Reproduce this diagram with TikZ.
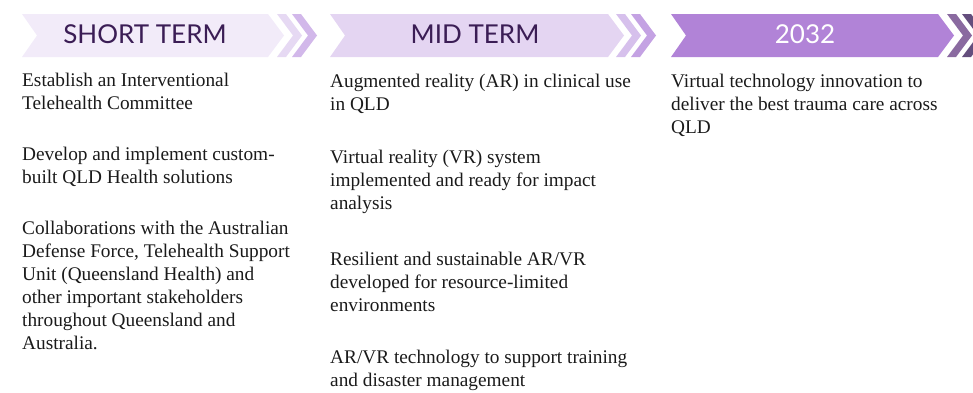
\documentclass[tikz,border=0pt]{standalone}
\usepackage{fontspec}
\setmainfont{Liberation Serif}
\newfontfamily\bannerfont{Lato}
\usepackage{xcolor}
\usepackage{tikz}

\definecolor{shortfill}{HTML}{F2EBF9}
\definecolor{shortchevA}{HTML}{E6D9F3}
\definecolor{shortchevB}{HTML}{D2B8EA}
\definecolor{midfill}{HTML}{E4D5F2}
\definecolor{midchevA}{HTML}{D6C0EC}
\definecolor{midchevB}{HTML}{C4A2E3}
\definecolor{yearfill}{HTML}{B183D7}
\definecolor{yearchevA}{HTML}{8A6AA0}
\definecolor{yearchevB}{HTML}{644E7D}
\definecolor{bannertext}{HTML}{3B1D55}
\definecolor{bodytext}{HTML}{1A1A1A}

\begin{document}
\begin{tikzpicture}[
    x=1pt, y=-1pt,
    label/.style={font=\bannerfont\fontsize{26}{30}\selectfont, inner sep=0pt, anchor=center},
    item/.style={anchor=base west, align=left, inner sep=0pt, font=\fontsize{19.3}{23}\selectfont, text=bodytext}
]
    \clip (0,0) rectangle (973,392);

    % Short term banner
    \fill[shortfill] (22,14) -- (268,14) -- (284,35.5) -- (268,57) -- (22,57) -- (37,35.5) -- cycle;
    \fill[shortchevA] (277,14) -- ++(9,0) -- ++(16,21.5) -- ++(-16,21.5) -- ++(-9,0) -- ++(16,-21.5) -- cycle;
    \fill[shortchevB] (292,14) -- ++(9,0) -- ++(16,21.5) -- ++(-16,21.5) -- ++(-9,0) -- ++(16,-21.5) -- cycle;
    \node[label, text=bannertext] (shortlbl) at (145,34) {SHORT TERM};

    % Mid term banner
    \fill[midfill] (330,14) -- (608,14) -- (624,35.5) -- (608,57) -- (330,57) -- (345,35.5) -- cycle;
    \fill[midchevA] (616,14) -- ++(9,0) -- ++(16,21.5) -- ++(-16,21.5) -- ++(-9,0) -- ++(16,-21.5) -- cycle;
    \fill[midchevB] (631,14) -- ++(9,0) -- ++(16,21.5) -- ++(-16,21.5) -- ++(-9,0) -- ++(16,-21.5) -- cycle;
    \node[label, text=bannertext] (midlbl) at (475,34) {MID TERM};

    % 2032 banner
    \fill[yearfill] (671,14) -- (938,14) -- (954,35.5) -- (938,57) -- (671,57) -- (686,35.5) -- cycle;
    \fill[yearchevA] (947,14) -- ++(9,0) -- ++(16,21.5) -- ++(-16,21.5) -- ++(-9,0) -- ++(16,-21.5) -- cycle;
    \fill[yearchevB] (962,14) -- ++(9,0) -- ++(16,21.5) -- ++(-16,21.5) -- ++(-9,0) -- ++(16,-21.5) -- cycle;
    \node[label, text=white] (yearlbl) at (805,34) {2032};

    % Short term items (placed at the baseline of their last line)
    \node[item] (st1) at (22,109) {Establish an Interventional\\Telehealth Committee};
    \node[item] (st2) at (22,183) {Develop and implement custom-\\built QLD Health solutions};
    \node[item] (st3) at (22,349) {Collaborations with the Australian\\Defense Force, Telehealth Support\\Unit (Queensland Health) and\\other important stakeholders\\throughout Queensland and\\Australia.};

    % Mid term items
    \node[item] (mt1) at (330,110) {Augmented reality (AR) in clinical use\\in QLD};
    \node[item] (mt2) at (330,209) {Virtual reality (VR) system\\implemented and ready for impact\\analysis};
    \node[item] (mt3) at (330,311) {Resilient and sustainable AR/VR\\developed for resource-limited\\environments};
    \node[item] (mt4) at (330,386) {AR/VR technology to support training\\and disaster management};

    % 2032 items
    \node[item] (lt1) at (671,133) {Virtual technology innovation to\\deliver the best trauma care across\\QLD};
\end{tikzpicture}
\end{document}
